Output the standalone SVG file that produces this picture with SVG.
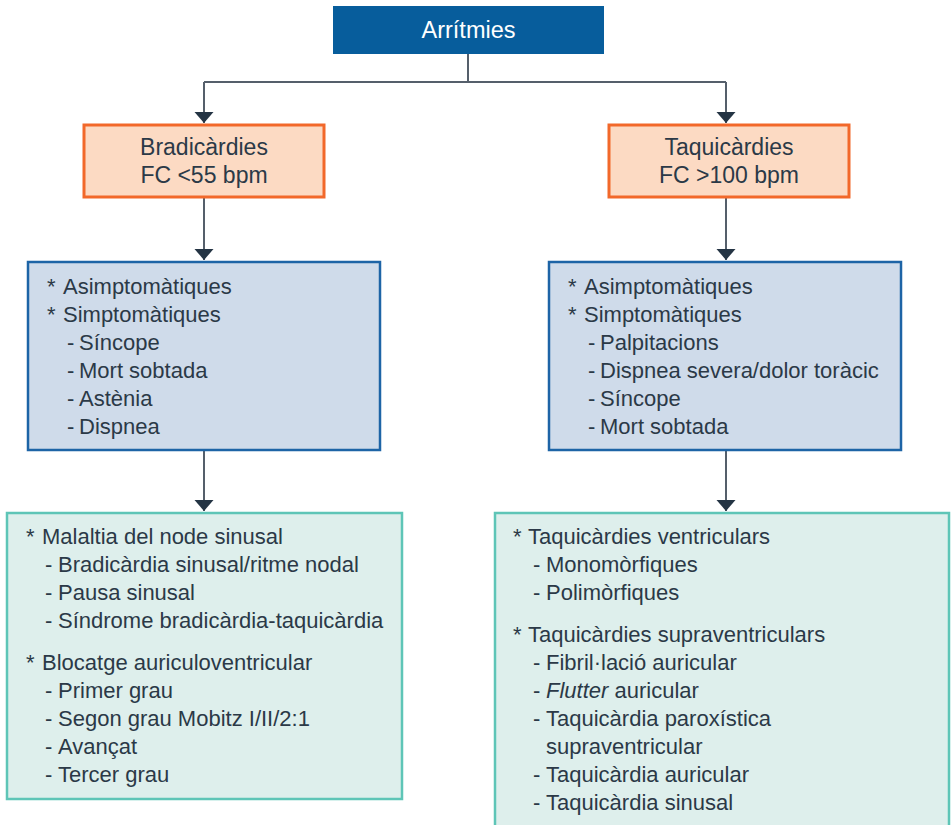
<svg xmlns="http://www.w3.org/2000/svg" width="951" height="825" viewBox="0 0 951 825">
<style>
text{font-family:"Liberation Sans",Arial,sans-serif;fill:#2b3947;font-size:22px}
.title{fill:#ffffff;font-size:23.5px}
.head{font-size:23px}
.conn{stroke:#555f6b;stroke-width:2;fill:none}
.top{fill:#075d9c}
.orange{fill:#fcdac3;stroke:#f2682a;stroke-width:3}
.blue{fill:#cfdbea;stroke:#1d64a6;stroke-width:2.5}
.green{fill:#deefec;stroke:#5ec5b7;stroke-width:2.5}
</style>
<defs>
<marker id="arr" markerUnits="userSpaceOnUse" markerWidth="12" markerHeight="20" refX="11" refY="9.5" orient="auto">
<path d="M0,0 L11,9.5 L0,19 Z" fill="#243444"/>
</marker>
</defs>
<rect width="951" height="825" fill="#ffffff"/>
<g id="connectors">
<path class="conn" d="M468,54 V82"/>
<path class="conn" d="M204,82 H726"/>
<path class="conn" d="M204,82 V123" marker-end="url(#arr)"/>
<path class="conn" d="M726,82 V123" marker-end="url(#arr)"/>
<path class="conn" d="M204,197 V260" marker-end="url(#arr)"/>
<path class="conn" d="M726,197 V260" marker-end="url(#arr)"/>
<path class="conn" d="M204,450 V511" marker-end="url(#arr)"/>
<path class="conn" d="M726,450 V511" marker-end="url(#arr)"/>
</g>
<g id="arritmies">
<rect class="top" x="333" y="6" width="271" height="48"/>
<text class="title" x="468.5" y="38" text-anchor="middle">Arrítmies</text>
</g>
<g id="bradicardies">
<rect class="orange" x="84" y="125" width="240" height="72"/>
<text class="head" x="204" y="155" text-anchor="middle">Bradicàrdies</text>
<text class="head" x="204" y="183" text-anchor="middle">FC &lt;55 bpm</text>
</g>
<g id="taquicardies">
<rect class="orange" x="609" y="125" width="240" height="72"/>
<text class="head" x="729" y="155" text-anchor="middle">Taquicàrdies</text>
<text class="head" x="729" y="183" text-anchor="middle">FC &gt;100 bpm</text>
</g>
<g id="simptomes-bradi">
<rect class="blue" x="28" y="262" width="352" height="188"/>
<text y="294"><tspan x="47">*</tspan><tspan x="63">Asimptomàtiques</tspan></text>
<text y="322"><tspan x="47">*</tspan><tspan x="63">Simptomàtiques</tspan></text>
<text y="350"><tspan x="67">-</tspan><tspan x="79">Síncope</tspan></text>
<text y="378"><tspan x="67">-</tspan><tspan x="79">Mort sobtada</tspan></text>
<text y="406"><tspan x="67">-</tspan><tspan x="79">Astènia</tspan></text>
<text y="434"><tspan x="67">-</tspan><tspan x="79">Dispnea</tspan></text>
</g>
<g id="simptomes-taqui">
<rect class="blue" x="549" y="262" width="352" height="188"/>
<text y="294"><tspan x="568">*</tspan><tspan x="584">Asimptomàtiques</tspan></text>
<text y="322"><tspan x="568">*</tspan><tspan x="584">Simptomàtiques</tspan></text>
<text y="350"><tspan x="588">-</tspan><tspan x="600">Palpitacions</tspan></text>
<text y="378"><tspan x="588">-</tspan><tspan x="600">Dispnea severa/dolor toràcic</tspan></text>
<text y="406"><tspan x="588">-</tspan><tspan x="600">Síncope</tspan></text>
<text y="434"><tspan x="588">-</tspan><tspan x="600">Mort sobtada</tspan></text>
</g>
<g id="tipus-bradi">
<rect class="green" x="7" y="513" width="395" height="286"/>
<text y="544"><tspan x="26">*</tspan><tspan x="42">Malaltia del node sinusal</tspan></text>
<text y="572"><tspan x="45">-</tspan><tspan x="58">Bradicàrdia sinusal/ritme nodal</tspan></text>
<text y="600"><tspan x="45">-</tspan><tspan x="58">Pausa sinusal</tspan></text>
<text y="628"><tspan x="45">-</tspan><tspan x="58">Síndrome bradicàrdia-taquicàrdia</tspan></text>
<text y="670"><tspan x="26">*</tspan><tspan x="42">Blocatge auriculoventricular</tspan></text>
<text y="698"><tspan x="45">-</tspan><tspan x="58">Primer grau</tspan></text>
<text y="726"><tspan x="45">-</tspan><tspan x="58">Segon grau Mobitz I/II/2:1</tspan></text>
<text y="754"><tspan x="45">-</tspan><tspan x="58">Avançat</tspan></text>
<text y="782"><tspan x="45">-</tspan><tspan x="58">Tercer grau</tspan></text>
</g>
<g id="tipus-taqui">
<rect class="green" x="495" y="513" width="454" height="320"/>
<text y="544"><tspan x="513">*</tspan><tspan x="528">Taquicàrdies ventriculars</tspan></text>
<text y="572"><tspan x="533">-</tspan><tspan x="546">Monomòrfiques</tspan></text>
<text y="600"><tspan x="533">-</tspan><tspan x="546">Polimòrfiques</tspan></text>
<text y="642"><tspan x="513">*</tspan><tspan x="528">Taquicàrdies supraventriculars</tspan></text>
<text y="670"><tspan x="533">-</tspan><tspan x="546">Fibril·lació auricular</tspan></text>
<text y="698"><tspan x="533">-</tspan><tspan x="546" font-style="italic">Flutter</tspan> auricular</text>
<text y="726"><tspan x="533">-</tspan><tspan x="546">Taquicàrdia paroxística</tspan></text>
<text y="754"><tspan x="546">supraventricular</tspan></text>
<text y="782"><tspan x="533">-</tspan><tspan x="546">Taquicàrdia auricular</tspan></text>
<text y="810"><tspan x="533">-</tspan><tspan x="546">Taquicàrdia sinusal</tspan></text>
</g>
</svg>
